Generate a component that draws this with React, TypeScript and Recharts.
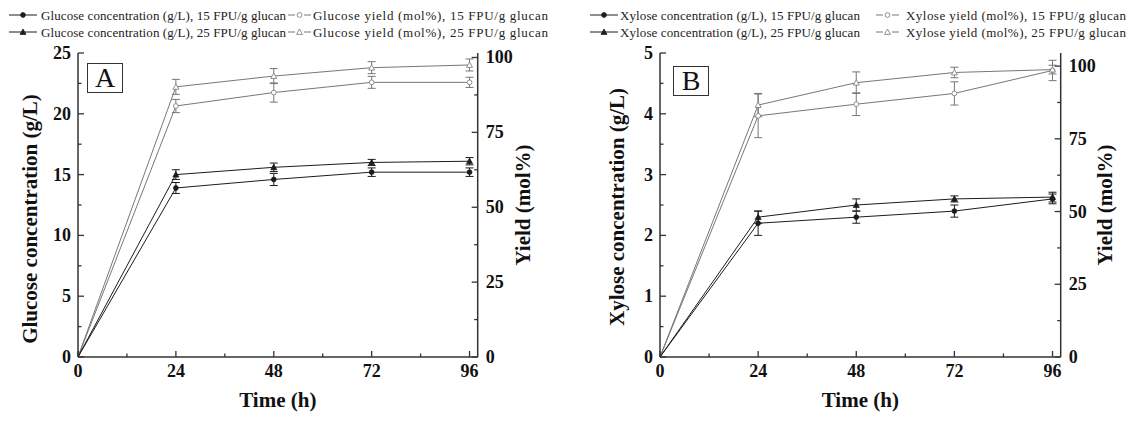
import React from 'react'
import { ComposedChart, Line, XAxis, YAxis, ErrorBar, Label } from 'recharts'

const times = [0, 24, 48, 72, 96]
const timeTicks = [0, 12, 24, 36, 48, 60, 72, 84, 96]
const timeLabels = [0, 24, 48, 72, 96]

// panel A: glucose
const glcConc15 = [0, 13.9, 14.6, 15.2, 15.2]
const glcConc15Err = [0, 0.45, 0.5, 0.35, 0.35]
const glcConc25 = [0, 15.0, 15.6, 16.0, 16.1]
const glcConc25Err = [0, 0.4, 0.35, 0.25, 0.3]
const glcYield15 = [0, 83.8, 88.3, 91.7, 91.7]
const glcYield15Err = [0, 2.2, 3.2, 2, 1.7]
const glcYield25 = [0, 90.2, 93.8, 96.6, 97.5]
const glcYield25Err = [0, 2.5, 2.5, 2, 2]

// panel B: xylose
const xylConc15 = [0, 2.2, 2.3, 2.4, 2.6]
const xylConc15Err = [0, 0.2, 0.1, 0.1, 0.08]
const xylConc25 = [0, 2.3, 2.5, 2.6, 2.63]
const xylConc25Err = [0, 0.1, 0.1, 0.05, 0.08]
const xylYield15 = [0, 82.9, 86.9, 90.6, 98.5]
const xylYield15Err = [0, 7.5, 3.9, 4, 3.5]
const xylYield25 = [0, 86.6, 94.3, 97.8, 98.8]
const xylYield25Err = [0, 4, 3.7, 1.8, 1.5]

const glcTicks = [0, 2.5, 5, 7.5, 10, 12.5, 15, 17.5, 20, 22.5, 25]
const glcLabels = [0, 5, 10, 15, 20, 25]
const xylTicks = [0, 0.5, 1, 1.5, 2, 2.5, 3, 3.5, 4, 4.5, 5]
const xylLabels = [0, 1, 2, 3, 4, 5]
const yieldTicks = [0, 12.5, 25, 37.5, 50, 62.5, 75, 87.5, 100]
const yieldLabels = [0, 25, 50, 75, 100]

const glcNames = [
  'Glucose concentration (g/L), 15 FPU/g glucan',
  'Glucose yield (mol%), 15 FPU/g glucan',
  'Glucose concentration (g/L), 25 FPU/g glucan',
  'Glucose yield (mol%), 25 FPU/g glucan',
]
const xylNames = [
  'Xylose concentration (g/L), 15 FPU/g glucan',
  'Xylose yield (mol%), 15 FPU/g glucan',
  'Xylose concentration (g/L), 25 FPU/g glucan',
  'Xylose yield (mol%), 25 FPU/g glucan',
]

const FONT = '"Liberation Serif", "Times New Roman", serif'
const DARK = '#1c1c1c'
const GREY = '#777'
const AXIS = '#333'

const buildRows = (c15: number[], c15e: number[], c25: number[], c25e: number[],
  y15: number[], y15e: number[], y25: number[], y25e: number[]) =>
  times.map((t, i) => ({
    t, c15: c15[i], c15e: c15e[i], c25: c25[i], c25e: c25e[i],
    y15: y15[i], y15e: y15e[i], y25: y25[i], y25e: y25e[i],
  }))

const Marker = ({ kind, cx, cy }: { kind: string; cx: number; cy: number }) => {
  if (cx == null || cy == null) return null
  const open = kind.startsWith('open')
  const fill = open ? '#fff' : DARK
  const stroke = open ? GREY : DARK
  if (kind.endsWith('tri')) {
    const s = 3
    return <polygon points={`${cx},${cy - s} ${cx - s},${cy + s * 0.8} ${cx + s},${cy + s * 0.8}`} fill={fill} stroke={stroke} strokeWidth={0.8} />
  }
  return <circle cx={cx} cy={cy} r={2.4} fill={fill} stroke={stroke} strokeWidth={0.8} />
}

// origin point sits on the axis corner, Origin hides its symbol there
const dot = (kind: string) => (p: any) =>
  p.index === 0 ? <g key={`${kind}-0`} /> : <Marker key={`${kind}-${p.index}`} kind={kind} cx={p.cx} cy={p.cy} />

const tickFn = (side: string, labels: number[]) => (p: any) => {
  const { x, y, payload } = p
  const v = payload.value
  const major = labels.includes(v)
  const len = major ? 6 : 3.5
  const style = { fontFamily: FONT, fontWeight: 700, fontSize: 18, fill: '#111' }
  if (side === 'bottom')
    return (
      <g>
        <line x1={x} y1={y} x2={x} y2={y - len} stroke={AXIS} strokeWidth={1.3} />
        {major && <text x={x} y={y + 20} textAnchor="middle" style={style}>{v}</text>}
      </g>
    )
  if (side === 'top')
    return <line x1={x} y1={y} x2={x} y2={y + len} stroke={AXIS} strokeWidth={1.3} />
  if (side === 'left')
    return (
      <g>
        <line x1={x} y1={y} x2={x + len} y2={y} stroke={AXIS} strokeWidth={1.3} />
        {major && <text x={x - 7} y={y + 6} textAnchor="end" style={style}>{v}</text>}
      </g>
    )
  return (
    <g>
      <line x1={x} y1={y} x2={x - len} y2={y} stroke={AXIS} strokeWidth={1.3} />
      {major && <text x={x + 8} y={y + 6} textAnchor="start" style={style}>{v}</text>}
    </g>
  )
}

const vLabel = (text: string, dx: number, cyFix: number) => (p: any) => {
  const vb = p.viewBox
  const cx = vb.x + dx
  const cy = cyFix
  return (
    <text x={cx} y={cy} transform={`rotate(-90 ${cx} ${cy})`} textAnchor="middle" dominantBaseline="central"
      style={{ fontFamily: FONT, fontWeight: 700, fontSize: 21, fill: '#111' }}>{text}</text>
  )
}

const hLabel = (text: string) => (p: any) => {
  const vb = p.viewBox
  return (
    <text x={vb.x + vb.width / 2} y={400} textAnchor="middle" dominantBaseline="central"
      style={{ fontFamily: FONT, fontWeight: 700, fontSize: 21, fill: '#111' }}>{text}</text>
  )
}

const kinds = ['fill-circle', 'open-circle', 'fill-tri', 'open-tri']

type LegendCol = { sym: number; text: number; len: number }

const PanelLegend = ({ names, cols }: { names: string[]; cols: LegendCol[] }) => (
  <svg width={564} height={44} style={{ position: 'absolute', left: 0, top: 0 }}>
    {names.map((n, i) => {
      const c = cols[i % 2]
      const y = i < 2 ? 15 : 32
      const open = kinds[i].startsWith('open')
      const w = open ? 23 : 28
      return (
        <g key={n}>
          {open ? (
            <>
              <line x1={c.sym} y1={y} x2={c.sym + 7} y2={y} stroke={GREY} strokeWidth={1} />
              <line x1={c.sym + 16} y1={y} x2={c.sym + w} y2={y} stroke={GREY} strokeWidth={1} />
            </>
          ) : (
            <line x1={c.sym} y1={y} x2={c.sym + w} y2={y} stroke={DARK} strokeWidth={1} />
          )}
          <Marker kind={kinds[i]} cx={c.sym + w / 2} cy={y} />
          <text x={c.text} y={y + 4.5} textLength={c.len} lengthAdjust="spacing"
            style={{ fontFamily: FONT, fontSize: 13, fill: '#222' }}>{n}</text>
        </g>
      )
    })}
  </svg>
)

type PanelProps = {
  left: number
  rows: any[]
  names: string[]
  concTicks: number[]
  concLabels: number[]
  concMax: number
  yieldMax: number
  concTitle: string
  margin: { top: number; right: number; bottom: number; left: number }
  leftDx: number
  leftCy: number
  rightDx: number
  letter: string
  box: { x: number; y: number }
  legend: LegendCol[]
}

const Panel = (p: PanelProps) => (
  <div style={{ position: 'absolute', left: p.left, top: 0, width: 564, height: 423 }}>
    <PanelLegend names={p.names} cols={p.legend} />
    <ComposedChart width={564} height={423} data={p.rows} margin={p.margin}>
      <XAxis xAxisId="b" dataKey="t" type="number" domain={[0, 98]} allowDataOverflow ticks={timeTicks} interval={0}
        tickSize={0} tickMargin={0} tickLine={false} tick={tickFn('bottom', timeLabels)}
        axisLine={{ stroke: AXIS, strokeWidth: 1.5 }} height={30}>
        <Label content={hLabel('Time (h)')} />
      </XAxis>
      <XAxis xAxisId="top" orientation="top" dataKey="t" type="number" domain={[0, 98]} allowDataOverflow ticks={timeTicks}
        interval={0} tickSize={0} tickMargin={0} tickLine={false} tick={tickFn('top', timeLabels)}
        axisLine={{ stroke: AXIS, strokeWidth: 1.5 }} height={0} />
      <YAxis yAxisId="l" type="number" domain={[0, p.concMax]} allowDataOverflow ticks={p.concTicks} interval={0}
        tickSize={0} tickMargin={0} tickLine={false} tick={tickFn('left', p.concLabels)}
        axisLine={{ stroke: AXIS, strokeWidth: 1.5 }} width={60}>
        <Label content={vLabel(p.concTitle, p.leftDx, p.leftCy)} />
      </YAxis>
      <YAxis yAxisId="r" orientation="right" type="number" domain={[0, p.yieldMax]} allowDataOverflow ticks={yieldTicks}
        interval={0} tickSize={0} tickMargin={0} tickLine={false} tick={tickFn('right', yieldLabels)}
        axisLine={{ stroke: AXIS, strokeWidth: 1.5 }} width={60}>
        <Label content={vLabel('Yield (mol%)', p.rightDx, 205)} />
      </YAxis>
      <Line xAxisId="b" yAxisId="r" dataKey="y15" stroke={GREY} strokeWidth={1} dot={dot('open-circle')} isAnimationActive={false}>
        <ErrorBar dataKey="y15e" width={4} stroke={GREY} strokeWidth={1} />
      </Line>
      <Line xAxisId="b" yAxisId="r" dataKey="y25" stroke={GREY} strokeWidth={1} dot={dot('open-tri')} isAnimationActive={false}>
        <ErrorBar dataKey="y25e" width={4} stroke={GREY} strokeWidth={1} />
      </Line>
      <Line xAxisId="b" yAxisId="l" dataKey="c15" stroke={DARK} strokeWidth={1} dot={dot('fill-circle')} isAnimationActive={false}>
        <ErrorBar dataKey="c15e" width={4} stroke={DARK} strokeWidth={1} />
      </Line>
      <Line xAxisId="b" yAxisId="l" dataKey="c25" stroke={DARK} strokeWidth={1} dot={dot('fill-tri')} isAnimationActive={false}>
        <ErrorBar dataKey="c25e" width={4} stroke={DARK} strokeWidth={1} />
      </Line>
    </ComposedChart>
    <div style={{
      position: 'absolute', left: p.box.x, top: p.box.y, width: 34, height: 28, border: '1px solid #333',
      fontFamily: FONT, fontSize: 28, lineHeight: '28px', textAlign: 'center', color: '#111', background: '#fff',
    }}>{p.letter}</div>
  </div>
)

export default function App() {
  const rowsA = buildRows(glcConc15, glcConc15Err, glcConc25, glcConc25Err, glcYield15, glcYield15Err, glcYield25, glcYield25Err)
  const rowsB = buildRows(xylConc15, xylConc15Err, xylConc25, xylConc25Err, xylYield15, xylYield15Err, xylYield25, xylYield25Err)
  return (
    <div style={{ position: 'absolute', left: 0, top: 0, width: 1128, height: 423, background: '#fff', overflow: 'hidden' }}>
      <Panel left={0} rows={rowsA} names={glcNames} concTicks={glcTicks} concLabels={glcLabels} concMax={25} yieldMax={101.5}
        concTitle="Glucose concentration (g/L)" margin={{ top: 53, right: 26.3, bottom: 36, left: 18 }}
        leftDx={12} leftCy={219} rightDx={45.3} letter="A" box={{ x: 87, y: 63 }}
        legend={[{ sym: 9, text: 41, len: 245 }, { sym: 288, text: 313, len: 235 }]} />
      <Panel left={564} rows={rowsB} names={xylNames} concTicks={xylTicks} concLabels={xylLabels} concMax={5} yieldMax={104.5}
        concTitle="Xylose concentration (g/L)" margin={{ top: 53, right: 7.3, bottom: 36, left: 36 }}
        leftDx={17} leftCy={207} rightDx={44.3} letter="B" box={{ x: 109, y: 66 }}
        legend={[{ sym: 26, text: 56, len: 240 }, { sym: 312, text: 342, len: 220 }]} />
    </div>
  )
}
